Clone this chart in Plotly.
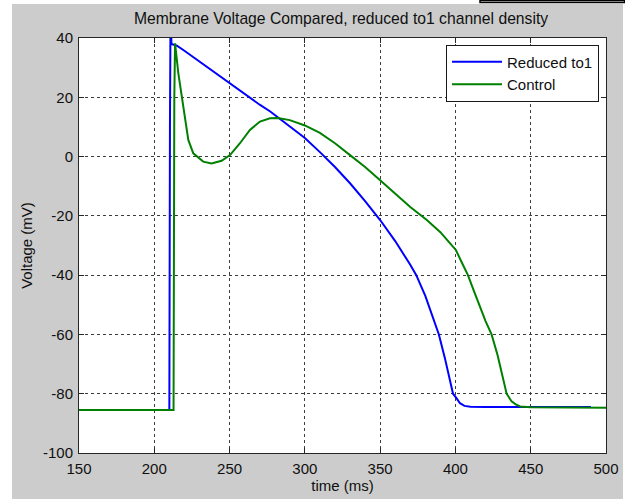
import plotly.graph_objects as go

# Data
t_reduced = [150, 210.0, 210.4, 210.8, 211.4, 214.0, 215.0, 220, 230, 240, 250, 260, 270, 277, 280, 290, 300,
             310, 320, 330, 340, 350, 360, 370, 374, 380, 385, 389, 393, 396, 398.4, 400.8, 403, 406, 410, 420, 490]
v_reduced = [-85.5, -85.5, 10, 50, 38, 37.6, 37.4, 35.7, 32, 28.5, 24.7, 21, 17.5, 15.2, 14, 10.3, 6.3,
             1.5, -3.5, -9, -15, -21.4, -28.5, -36.5, -40, -47, -54, -60, -68, -75, -80, -81.6, -83.2, -84.1, -84.4, -84.5, -84.5]

t_control = [150, 212.8, 213.3, 213.8, 216, 218.2, 220.4, 222.6, 225.9, 232.5, 238, 244.7, 250.3, 256.9, 263.5,
             270.2, 276.8, 282, 290, 300, 310, 320, 330, 340, 350, 360, 370, 381, 390, 396.3, 400.3, 404, 408.3,
             412, 416, 420, 424, 428, 431, 434, 437.3, 440, 443, 450, 500]
v_control = [-85.5, -85.5, 20, 38.2, 28, 20.2, 12.4, 5.6, 1.1, -1.7, -2.3, -1.4, 0.5, 4.5, 9,
             11.8, 12.9, 13, 12.3, 10.5, 8, 4.5, 0.5, -3.5, -8, -12.5, -17, -21.4, -25.5, -29.2, -31.5, -35.5, -40,
             -45, -50.5, -55.5, -60, -67, -73.5, -80, -82.6, -83.6, -84.3, -84.6, -84.7]

x_ticks = [150, 200, 250, 300, 350, 400, 450, 500]
y_ticks = [40, 20, 0, -20, -40, -60, -80, -100]

FONT = "Liberation Sans, Arial, sans-serif"
FS = 15

fig = go.Figure()
fig.add_trace(go.Scatter(x=t_reduced, y=v_reduced, mode="lines", name="Reduced to1",
                         line=dict(color="#0000ff", width=2)))
fig.add_trace(go.Scatter(x=t_control, y=v_control, mode="lines", name="Control",
                         line=dict(color="#008000", width=2)))

W, H = 625, 499
L, R, T, B = 79, 19, 38, 46
pw, ph = W - L - R, H - T - B


def px_x(p):
    return (p - L) / pw


def px_y(p):
    return (H - B - p) / ph


axis_common = dict(
    showline=True, linecolor="#262626", linewidth=1, mirror="ticks",
    ticks="inside", ticklen=5, tickcolor="#262626", tickwidth=1,
    showgrid=True, gridcolor="#3c3c3c", gridwidth=1, griddash="3px,3px",
    zeroline=False, automargin=False,
    tickfont=dict(family=FONT, size=FS, color="#101010"),
)

fig.update_xaxes(range=[150, 500], tickvals=x_ticks, ticktext=[str(v) for v in x_ticks],
                 title=dict(text="time (ms)", font=dict(family=FONT, size=FS, color="#101010"), standoff=4),
                 ticklabelstandoff=2, **axis_common)
fig.update_yaxes(range=[-100, 40], tickvals=y_ticks, ticktext=[str(v) for v in y_ticks],
                 title=dict(text="Voltage (mV)", font=dict(family=FONT, size=FS, color="#101010"), standoff=6),
                 ticklabelstandoff=2, **axis_common)

shapes = [
    # white strips around the grey figure area (kept inside the page)
    dict(type="rect", xref="paper", yref="paper", x0=px_x(0), x1=px_x(625), y0=px_y(4), y1=px_y(0),
         fillcolor="white", line=dict(width=0), layer="below"),
    dict(type="rect", xref="paper", yref="paper", x0=px_x(0), x1=px_x(12), y0=px_y(499), y1=px_y(0),
         fillcolor="white", line=dict(width=0), layer="below"),
    dict(type="rect", xref="paper", yref="paper", x0=px_x(623), x1=px_x(625), y0=px_y(499), y1=px_y(0),
         fillcolor="white", line=dict(width=0), layer="below"),
    # small box at the top right corner
    dict(type="rect", xref="paper", yref="paper", x0=px_x(480), x1=px_x(624.5), y0=px_y(2.5), y1=px_y(0.5),
         fillcolor="white", line=dict(color="black", width=1.5), layer="below"),
]

fig.update_layout(
    width=W, height=H, autosize=False,
    margin=dict(l=L, r=R, t=T, b=B, pad=0, autoexpand=False),
    paper_bgcolor="#cccccc", plot_bgcolor="white",
    title=dict(text="Membrane Voltage Compared, reduced to1 channel density",
               font=dict(family=FONT, size=15.7, color="#101010"),
               xref="container", x=341 / W, xanchor="center", y=1 - 19 / H, yanchor="middle"),
    legend=dict(x=px_x(599), xanchor="right", y=px_y(44.5), yanchor="top",
                bgcolor="white", bordercolor="#1a1a1a", borderwidth=1, itemwidth=50,
                font=dict(family=FONT, size=FS, color="#101010")),
    shapes=shapes,
    showlegend=True,
)

fig.write_html("out.html",
               config={"responsive": False, "displayModeBar": False},
               post_script="document.body.style.margin='0';document.body.style.padding='0';"
                           "document.documentElement.style.overflow='hidden';")
